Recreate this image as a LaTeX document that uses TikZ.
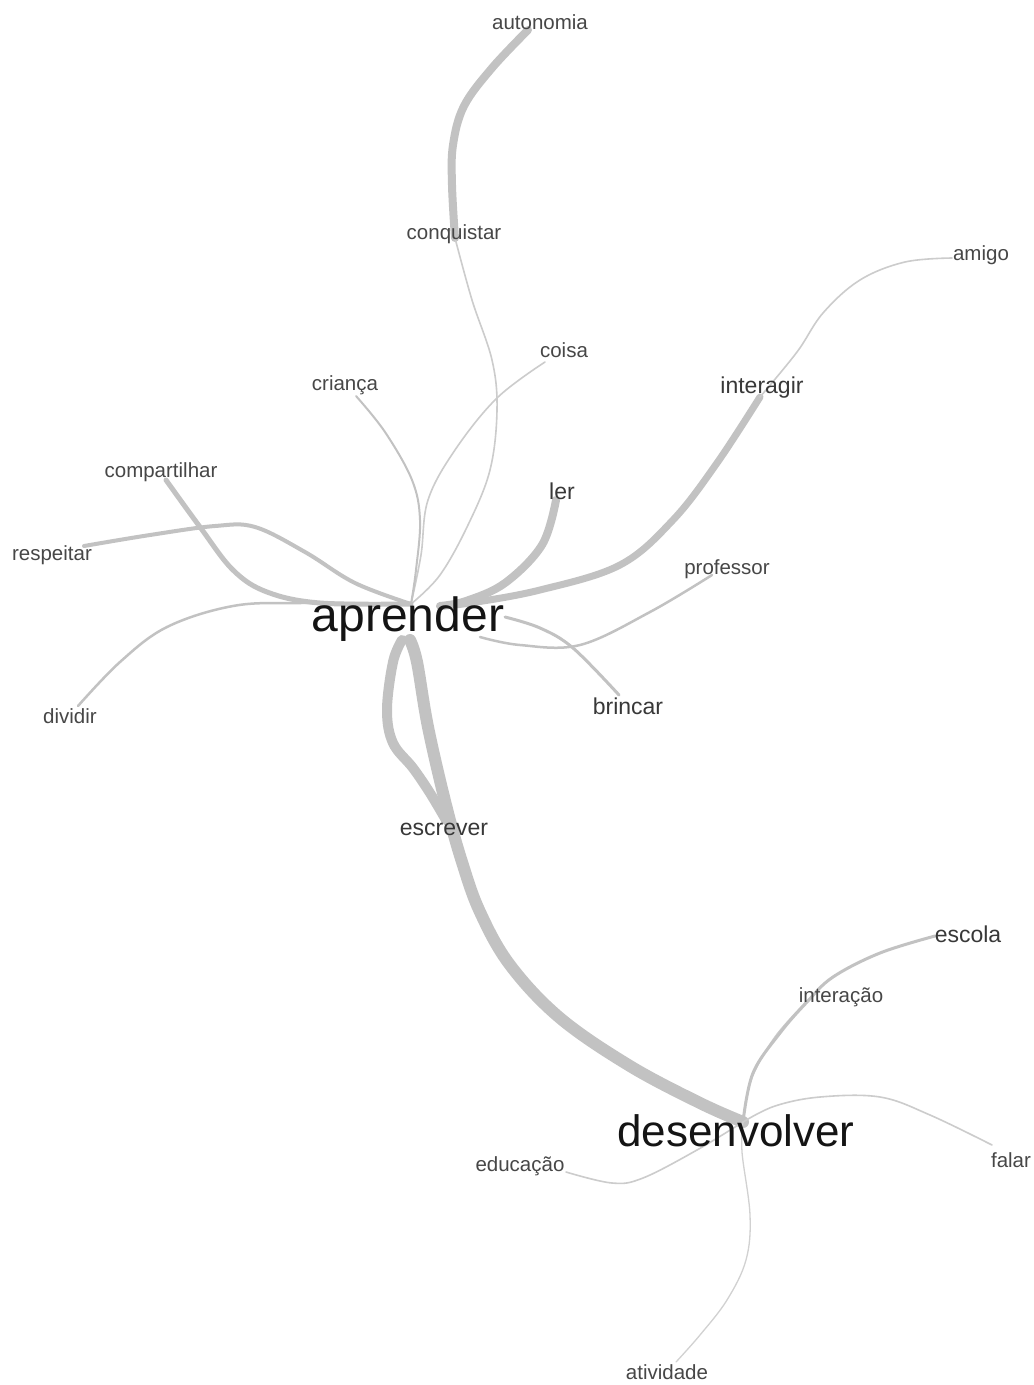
\documentclass[tikz,border=0pt]{standalone}
\usepackage{fontspec}
\setmainfont{Liberation Sans}
\begin{document}
\begin{tikzpicture}[x=1pt,y=-1pt,
  lbl/.style={font=\fontsize{20.5}{24}\selectfont, text=black!72, inner sep=0pt},
  lblm/.style={font=\fontsize{23}{27}\selectfont, text=black!78, inner sep=0pt},
  hubl/.style={text=black!92, inner sep=0pt},
  edge/.style={draw=black!24, line cap=round, line join=round},
  thin/.style={edge, draw=black!20, line width=1.6pt},
  smoothp/.style={smooth, tension=0.6},
]
\fill[white] (0,0) rectangle (1034,1385);
\useasboundingbox (0,0) rectangle (1034,1385);

% connector end points
\coordinate (A) at (411,604);
\coordinate (Ab) at (402,640);
\coordinate (Ac) at (410,640);
\coordinate (D) at (743,1122);
\coordinate (e-auto) at (528,30);
\coordinate (e-conq) at (455,238);
\coordinate (e-coisa) at (545,362);
\coordinate (e-crianca) at (356,396);
\coordinate (e-comp) at (166,480);
\coordinate (e-resp) at (84,546);
\coordinate (e-div) at (78,706);
\coordinate (e-ler) at (556,500);
\coordinate (e-inter) at (760,397);
\coordinate (e-amigo) at (952,258);
\coordinate (e-prof) at (712,575);
\coordinate (e-brinc) at (619,695);
\coordinate (e-escr) at (446,820);
\coordinate (e-escola) at (935,936);
\coordinate (e-interacao) at (808,1000);
\coordinate (e-falar) at (992,1145);
\coordinate (e-educ) at (566,1172);
\coordinate (e-ativ) at (676,1362);

% connectors
\draw[edge, line width=8pt] plot[smoothp] coordinates {(e-conq) (452,185) (453,145) (464,106) (492,68) (e-auto)};
\draw[thin] plot[smoothp] coordinates {(e-conq) (472,300) (492,360) (497,410) (490,470) (468,525) (440,575) (A)};
\draw[thin] plot[smoothp] coordinates {(e-coisa) (497,398) (455,450) (428,500) (421,555) (A)};
\draw[edge, line width=2pt] plot[smoothp] coordinates {(e-crianca) (385,432) (412,480) (420,520) (416,570) (A)};
\draw[edge, line width=5pt] plot[smoothp] coordinates {(e-comp) (200,527) (233,570) (267,592) (320,603) (A)};
\draw[edge, line width=4pt] plot[smoothp] coordinates {(e-resp) (150,535) (215,526) (255,527) (305,552) (355,583) (A)};
\draw[edge, line width=2.5pt] plot[smoothp] coordinates {(e-div) (120,662) (167,627) (233,606) (300,603) (A)};
\draw[edge, line width=8pt] plot[smoothp] coordinates {(e-ler) (542,545) (505,583) (466,601) (440,606)};
\draw[edge, line width=7pt] plot[smoothp] coordinates {(e-inter) (717,463) (673,520) (620,565) (540,590) (470,603) (440,606)};
\draw[thin] plot[smoothp] coordinates {(e-amigo) (905,262) (860,280) (823,313) (797,352) (e-inter)};
\draw[edge, line width=2.5pt] plot[smoothp] coordinates {(e-prof) (650,612) (580,645) (520,645) (480,637)};
\draw[edge, line width=3pt] plot[smoothp] coordinates {(e-brinc) (573,648) (540,628) (505,617)};
\draw[edge, line width=10pt] plot[smoothp] coordinates {(Ab) (393,662) (387,710) (393,743) (413,768) (430,793) (e-escr)};
\draw[edge, line width=12pt] plot[smoothp] coordinates {(Ac) (417,662) (428,727) (446,805) (462,862) (480,912) (510,965) (560,1018) (630,1066) (700,1103) (D)};
\draw[thin] plot[smoothp] coordinates {(D) (751,1080) (775,1037) (e-interacao)};
\draw[edge, line width=3pt] plot[smoothp] coordinates {(D) (753,1073) (780,1033) (807,1002) (833,977) (880,953) (e-escola)};
\draw[thin] plot[smoothp] coordinates {(D) (775,1106) (820,1097) (880,1097) (930,1115) (e-falar)};
\draw[thin] plot[smoothp] coordinates {(D) (697,1150) (643,1178) (612,1183) (e-educ)};
\draw[edge, draw=black!18, line width=1.3pt] plot[smoothp] coordinates {(D) (742,1152) (750,1215) (746,1260) (727,1300) (700,1335) (e-ativ)};

% labels
\node[lbl] (autonomia) at (540,22) {autonomia};
\node[lbl] (conquistar) at (454,234) {conquistar};
\node[lbl] (amigo) at (981,255) {amigo};
\node[lbl] (coisa) at (564,350) {coisa};
\node[lbl] (crianca) at (345,385) {criança};
\node[lblm] (interagir) at (762,388) {interagir};
\node[lbl] (compartilhar) at (161,472) {compartilhar};
\node[lblm] (ler) at (562,491) {ler};
\node[lbl] (respeitar) at (52,555) {respeitar};
\node[lbl] (professor) at (727,569) {professor};
\node[hubl, font=\fontsize{48}{56}\selectfont] (aprender) at (408,619) {aprender};
\node[lbl] (dividir) at (70,716) {dividir};
\node[lblm] (brincar) at (628,706) {brincar};
\node[lblm] (escrever) at (444,829) {escrever};
\node[lblm] (escola) at (968,934) {escola};
\node[lbl] (interacao) at (841,997) {interação};
\node[hubl, font=\fontsize{44}{52}\selectfont] (desenvolver) at (736,1131) {desenvolver};
\node[lbl] (educacao) at (520,1166) {educação};
\node[lbl] (falar) at (1011,1160) {falar};
\node[lbl] (atividade) at (667,1372) {atividade};
\end{tikzpicture}
\end{document}
